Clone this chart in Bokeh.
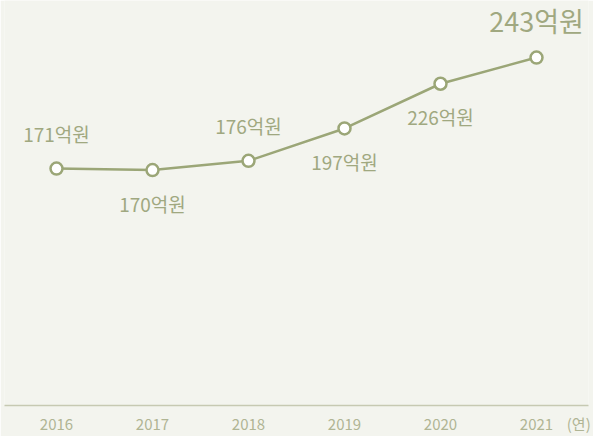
from bokeh.plotting import figure
from bokeh.models import ColumnDataSource, Range1d, Label, FixedTicker
from bokeh.embed import file_html
from bokeh.resources import INLINE

years = ["2016", "2017", "2018", "2019", "2020", "2021"]
amounts = [171, 170, 176, 197, 226, 243]
unit = "억원"
axis_unit = "(연)"
placement = ["above", "below", "above", "below", "below", "above"]

FONT = "Noto Sans CJK KR"
LINE = "#9ba677"
TEXT = "#a0a880"
TICK = "#b0b594"
BG = "#f3f4ee"

xs = list(range(len(years)))
unit_tick = len(years) - 1 + 0.44
p = figure(width=593, height=436, output_backend="svg", toolbar_location=None,
           x_range=Range1d(-0.5417, 5.5417), y_range=Range1d(17.3, 280),
           min_border_left=4, min_border_right=5, min_border_top=0, min_border_bottom=31,
           background_fill_color=BG, border_fill_color=BG, outline_line_color=None)
p.grid.visible = False
p.yaxis.visible = False
ax = p.xaxis[0]
ax.ticker = FixedTicker(ticks=xs + [unit_tick])
overrides = {i: y for i, y in enumerate(years)}
overrides[unit_tick] = axis_unit
ax.major_label_overrides = overrides
ax.axis_line_color = "#c6c9b2"
ax.axis_line_width = 1.5
ax.major_tick_line_color = None
ax.minor_tick_line_color = None
ax.major_label_text_font = FONT
ax.major_label_text_font_size = "15px"
ax.major_label_text_color = TICK
ax.major_label_standoff = 1

src = ColumnDataSource(dict(x=xs, y=amounts))
p.line("x", "y", source=src, line_color=LINE, line_width=2.5)
p.scatter("x", "y", source=src, size=12, fill_color="white", line_color=LINE, line_width=2.5)

last = len(years) - 1
for i, (x, v, pl) in enumerate(zip(xs, amounts, placement)):
    big = i == last
    off = (37 if big else 35) if pl == "above" else -33
    p.add_layout(Label(x=x, y=v, y_offset=off, text=f"{v}{unit}",
                       text_font=FONT, text_font_size="27px" if big else "19px",
                       text_color=TEXT, text_align="center", text_baseline="middle"))

open("out.html", "w").write(file_html(p, INLINE))
